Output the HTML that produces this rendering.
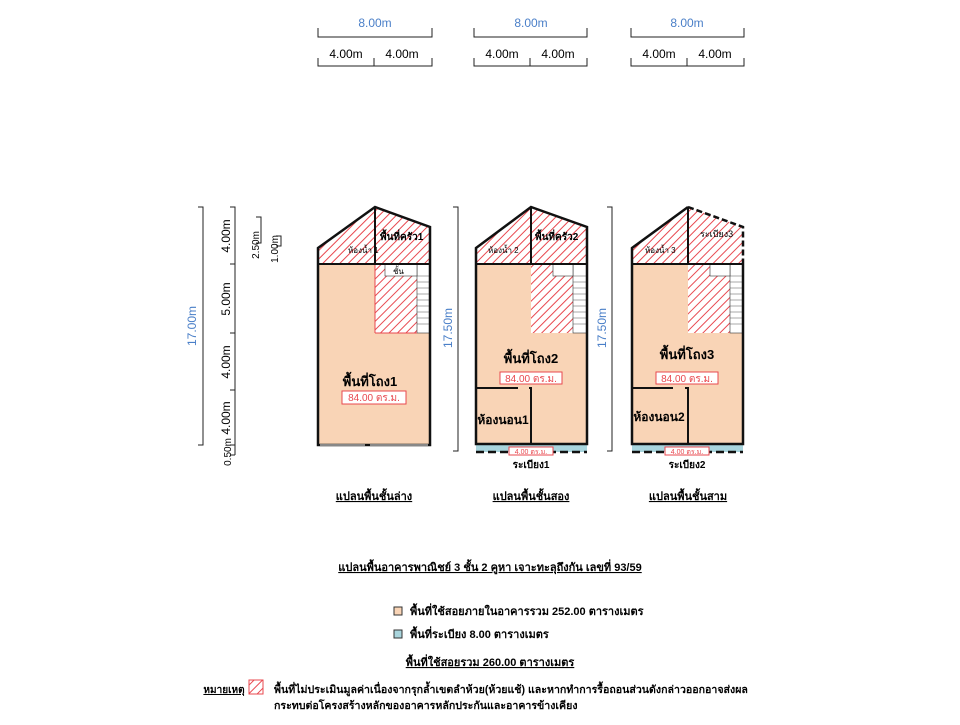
<!DOCTYPE html>
<html><head><meta charset="utf-8"><style>
body{margin:0;background:#fff;width:960px;height:720px;overflow:hidden;font-family:"Liberation Sans","Noto Sans CJK SC",sans-serif}
svg text{font-family:"Liberation Sans","Noto Sans CJK SC",sans-serif}
</style></head><body>
<svg width="960" height="720" viewBox="0 0 960 720" xmlns="http://www.w3.org/2000/svg">
<defs>
<pattern id="h" patternUnits="userSpaceOnUse" width="6" height="6" patternTransform="rotate(45)">
<rect width="6" height="6" fill="#fff"/><line x1="0" y1="0" x2="0" y2="6" stroke="#e8484f" stroke-width="2"/></pattern>
</defs>
<g stroke="#222" stroke-width="1" fill="none">
<path d="M318 28v9h114v-9M432 28v9"/><path d="M318 58v8h114v-8M374 58v8"/>
<path d="M474 28v9h113v-9"/><path d="M474 58v8h113v-8M530 58v8"/>
<path d="M631 28v9h113v-9"/><path d="M631 58v8h113v-8M687 58v8"/>
</g>
<g font-size="12" text-anchor="middle">
<text x="375" y="27" fill="#4a7fc8">8.00m</text><text x="531" y="27" fill="#4a7fc8">8.00m</text><text x="687" y="27" fill="#4a7fc8">8.00m</text>
<text x="346" y="58">4.00m</text><text x="402" y="58">4.00m</text>
<text x="502" y="58">4.00m</text><text x="558" y="58">4.00m</text>
<text x="659" y="58">4.00m</text><text x="715" y="58">4.00m</text>
</g>
<g stroke="#222" stroke-width="1" fill="none">
<path d="M198 207h5v238h-5"/>
<path d="M230 207h5v248M230 264h5M230 333h5M230 390h5M230 445h5M230 455h5"/>
<path d="M256 217h5v26h-5M276 236h5v10h-5"/>
<path d="M453 207h5v244h-5"/>
<path d="M607 207h5v244h-5"/>
</g>
<g font-size="12">
<text transform="translate(196,326) rotate(-90)" text-anchor="middle" fill="#4a7fc8">17.00m</text>
<text transform="translate(230,236) rotate(-90)" text-anchor="middle">4.00m</text>
<text transform="translate(230,299) rotate(-90)" text-anchor="middle">5.00m</text>
<text transform="translate(230,362) rotate(-90)" text-anchor="middle">4.00m</text>
<text transform="translate(230,418) rotate(-90)" text-anchor="middle">4.00m</text>
<text transform="translate(231,452) rotate(-90)" text-anchor="middle" font-size="10">0.50m</text>
<text transform="translate(259,245) rotate(-90)" text-anchor="middle" font-size="10">2.50m</text>
<text transform="translate(278,249) rotate(-90)" text-anchor="middle" font-size="10">1.00m</text>
<text transform="translate(452,328) rotate(-90)" text-anchor="middle" fill="#4a7fc8">17.50m</text>
<text transform="translate(606,328) rotate(-90)" text-anchor="middle" fill="#4a7fc8">17.50m</text>
</g>

<g>
<rect x="318" y="264" width="112" height="181" fill="#f9d4b6"/>
<path d="M318 248L375 207L430 227V264H318Z" fill="url(#h)"/>
<rect x="375" y="264" width="42" height="69" fill="url(#h)"/>
<rect x="417" y="264" width="13" height="69" fill="#fff" stroke="#333" stroke-width=".6"/>
<path d="M417 276h13M417 282h13M417 288h13M417 294h13M417 300h13M417 306h13M417 312h13M417 318h13M417 324h13" stroke="#555" stroke-width=".5"/>
<rect x="385" y="264" width="32" height="12" fill="#fff" stroke="#333" stroke-width=".6"/>
<path d="M375 333H417M375 264V333" stroke="#e8484f" stroke-width="1" fill="none"/>
<path d="M318 445V248L375 207L430 227V445Z" fill="none" stroke="#111" stroke-width="2.5"/>
<path d="M318 264H430M375 207V264" stroke="#111" stroke-width="2"/>
<path d="M320 445H365M370 445H428" stroke="#888" stroke-width="2"/>
<text x="348" y="253" font-size="8">ห้องน้ำ 1</text>
<text x="380" y="240" font-size="10" font-weight="bold">พื้นที่ครัว1</text>
<text x="393" y="274" font-size="8">ชั้น</text>
<text x="370" y="386" font-size="13" font-weight="bold" text-anchor="middle">พื้นที่โถง1</text>
<rect x="342" y="391" width="64" height="13" fill="#fff" stroke="#e8484f"/>
<text x="374" y="401" font-size="10" fill="#e8484f" text-anchor="middle">84.00 ตร.ม.</text>
</g>

<g>
<rect x="476" y="264" width="111" height="180" fill="#f9d4b6"/>
<rect x="476" y="444" width="111" height="8" fill="#a9d5dd"/>
<path d="M476 248L531 207L587 227V264H476Z" fill="url(#h)"/>
<rect x="531" y="264" width="42" height="69" fill="url(#h)"/>
<rect x="573" y="264" width="14" height="69" fill="#fff" stroke="#333" stroke-width=".6"/>
<path d="M573 276h14M573 282h14M573 288h14M573 294h14M573 300h14M573 306h14M573 312h14M573 318h14M573 324h14" stroke="#555" stroke-width=".5"/>
<rect x="553" y="264" width="20" height="12" fill="#fff" stroke="#333" stroke-width=".6"/>
<path d="M476 444V248L531 207L587 227V444Z" fill="none" stroke="#111" stroke-width="2.5"/>
<path d="M476 264H587M531 207V264M476 388H518M529 388H531V444" stroke="#111" stroke-width="2" fill="none"/>
<path d="M476 452h111" stroke="#111" stroke-width="2.5" stroke-dasharray="8,4"/>
<text x="488" y="253" font-size="8">ห้องน้ำ 2</text>
<text x="535" y="240" font-size="10" font-weight="bold">พื้นที่ครัว2</text>
<text x="531" y="363" font-size="13" font-weight="bold" text-anchor="middle">พื้นที่โถง2</text>
<rect x="500" y="372" width="62" height="12" fill="#fff" stroke="#e8484f"/>
<text x="531" y="382" font-size="10" fill="#e8484f" text-anchor="middle">84.00 ตร.ม.</text>
<text x="503" y="424" font-size="12" font-weight="bold" text-anchor="middle">ห้องนอน1</text>
<rect x="509" y="447" width="44" height="8" fill="#fff" stroke="#e8484f"/>
<text x="531" y="454" font-size="7" fill="#e8484f" text-anchor="middle">4.00 ตร.ม.</text>
<text x="531" y="468" font-size="10" font-weight="bold" text-anchor="middle">ระเบียง1</text>
</g>

<g>
<rect x="632" y="264" width="111" height="180" fill="#f9d4b6"/>
<rect x="632" y="444" width="111" height="8" fill="#a9d5dd"/>
<path d="M632 248L688 207L743 227V264H632Z" fill="url(#h)"/>
<rect x="688" y="264" width="42" height="69" fill="url(#h)"/>
<rect x="730" y="264" width="13" height="69" fill="#fff" stroke="#333" stroke-width=".6"/>
<path d="M730 276h13M730 282h13M730 288h13M730 294h13M730 300h13M730 306h13M730 312h13M730 318h13M730 324h13" stroke="#555" stroke-width=".5"/>
<rect x="710" y="264" width="20" height="12" fill="#fff" stroke="#333" stroke-width=".6"/>
<path d="M688 207L632 248V444H743V264" fill="none" stroke="#111" stroke-width="2.5"/>
<path d="M688 207L743 227V264" fill="none" stroke="#111" stroke-width="2.5" stroke-dasharray="6,3"/>
<path d="M632 264H743M688 207V264M632 388H673M685 388H688V444" stroke="#111" stroke-width="2" fill="none"/>
<path d="M632 452h111" stroke="#111" stroke-width="2.5" stroke-dasharray="8,4"/>
<text x="645" y="253" font-size="8">ห้องน้ำ 3</text>
<text x="700" y="237" font-size="9">ระเบียง3</text>
<text x="687" y="359" font-size="13" font-weight="bold" text-anchor="middle">พื้นที่โถง3</text>
<rect x="656" y="372" width="62" height="12" fill="#fff" stroke="#e8484f"/>
<text x="687" y="382" font-size="10" fill="#e8484f" text-anchor="middle">84.00 ตร.ม.</text>
<text x="659" y="421" font-size="12" font-weight="bold" text-anchor="middle">ห้องนอน2</text>
<rect x="665" y="447" width="44" height="8" fill="#fff" stroke="#e8484f"/>
<text x="687" y="454" font-size="7" fill="#e8484f" text-anchor="middle">4.00 ตร.ม.</text>
<text x="687" y="468" font-size="10" font-weight="bold" text-anchor="middle">ระเบียง2</text>
</g>

<g font-size="11" font-weight="bold" text-anchor="middle" text-decoration="underline">
<text x="374" y="500">แปลนพื้นชั้นล่าง</text>
<text x="531" y="500">แปลนพื้นชั้นสอง</text>
<text x="688" y="500">แปลนพื้นชั้นสาม</text>
<text x="490" y="571">แปลนพื้นอาคารพาณิชย์ 3 ชั้น 2 คูหา เจาะทะลุถึงกัน เลขที่ 93/59</text>
<text x="490" y="666">พื้นที่ใช้สอยรวม 260.00 ตารางเมตร</text>
<text x="224" y="693" font-size="10">หมายเหตุ</text>
</g>
<rect x="394" y="607" width="8" height="8" fill="#f9d4b6" stroke="#333"/>
<rect x="394" y="630" width="8" height="8" fill="#a9d5dd" stroke="#333"/>
<g font-size="11" font-weight="bold">
<text x="410" y="615">พื้นที่ใช้สอยภายในอาคารรวม 252.00 ตารางเมตร</text>
<text x="410" y="638">พื้นที่ระเบียง 8.00 ตารางเมตร</text>
<text x="274" y="693" font-size="10.6">พื้นที่ไม่ประเมินมูลค่าเนื่องจากรุกล้ำเขตลำห้วย(ห้วยแช้) และหากทำการรื้อถอนส่วนดังกล่าวออกอาจส่งผล</text>
<text x="274" y="709" font-size="10.6">กระทบต่อโครงสร้างหลักของอาคารหลักประกันและอาคารข้างเคียง</text>
</g>
<rect x="249" y="680" width="14" height="14" fill="url(#h)" stroke="#e8484f"/>
</svg>
</body></html>
